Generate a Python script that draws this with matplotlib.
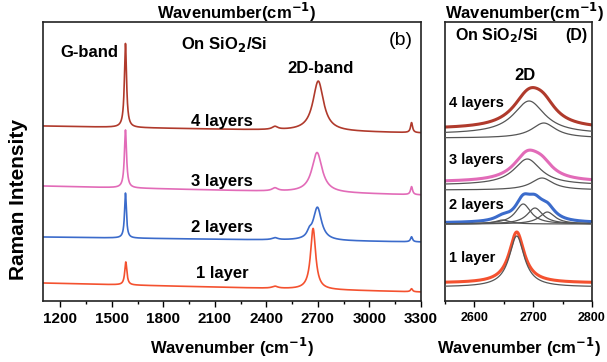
import numpy as np
import matplotlib
matplotlib.use('Agg')
import matplotlib.pyplot as plt
from matplotlib.ticker import MultipleLocator

plt.rcParams['font.family'] = ['Liberation Sans', 'DejaVu Sans']
plt.rcParams['font.weight'] = 'bold'
plt.rcParams['mathtext.default'] = 'bf'

# ---------------- data (arbitrary intensity units) ----
layer_labels = ['1 layer', '2 layers', '3 layers', '4 layers']
layer_colors = ['#f4512f', '#3b6bcb', '#e26bb8', '#b03a2c']

# left panel: full spectra on SiO2/Si
base_at_1100 = [18, 64, 115, 175]
base_at_3300 = [9, 59, 106, 168]
G_pos = [1582, 1580, 1580, 1580]
G_fwhm = [15, 13, 15, 15]
G_height = [23, 45, 58, 84]
D2_pos = [2672, 2697, 2695, 2702]
D2_fwhm = [36, 58, 72, 75]
D2_height = [61, 33, 40, 50]
shoulder_pos = [2650, 2650, 2650, 2650]
shoulder_height = [0, 5, 0, 0]
band2450_height = [2, 2, 3, 3]
band3245_height = [3, 5, 8, 10]

# right panel: 2D band with fitted components
rp_data_base = [18, 78, 119, 172]
comp_center = {'1 layer': [2672], '2 layers': [2648, 2683, 2703, 2724],
               '3 layers': [2690, 2715], '4 layers': [2693, 2718]}
comp_fwhm = {'1 layer': [31], '2 layers': [30, 32, 32, 32],
             '3 layers': [56, 45], '4 layers': [65, 50]}
comp_height = {'1 layer': [51], '2 layers': [4, 20, 16, 12],
               '3 layers': [26, 12], '4 layers': [33, 15]}
comp_base = {'1 layer': [14], '2 layers': [77, 77, 77, 77],
             '3 layers': [116, 111], '4 layers': [167, 163]}


def lorentz(x, c, w, h):
    return h / (1.0 + ((x - c) / (w / 2.0)) ** 2)


fig = plt.figure(figsize=(6.07, 3.62), dpi=100)
axL = fig.add_axes([43 / 607, 1 - 301 / 362, 378 / 607, 279 / 362])
axR = fig.add_axes([445 / 607, 1 - 301 / 362, 147 / 607, 279 / 362])

# ---------------- left panel ----------------
x = np.linspace(1100, 3300, 6000)
for i, lab in enumerate(layer_labels):
    base = np.interp(x, [1100, 3300], [base_at_1100[i], base_at_3300[i]])
    y = (base + lorentz(x, G_pos[i], G_fwhm[i], G_height[i])
         + lorentz(x, D2_pos[i], D2_fwhm[i], D2_height[i])
         + lorentz(x, shoulder_pos[i], 30, shoulder_height[i])
         + lorentz(x, 2450, 40, band2450_height[i])
         + lorentz(x, 3245, 14, band3245_height[i]))
    axL.plot(x, y, color=layer_colors[i], lw=1.2)

axL.set_xlim(1100, 3300)
axL.set_ylim(0, 279)
axL.set_yticks([])
axL.xaxis.set_major_locator(MultipleLocator(300))
axL.xaxis.set_minor_locator(MultipleLocator(150))

tf = axL.transAxes
axL.text(0.122, 0.892, 'G-band', transform=tf, ha='center', va='center', fontsize=12)
axL.text(0.479, 0.921, 'On SiO$_2$/Si', transform=tf, ha='center', va='center', fontsize=12)
axL.text(0.947, 0.935, '(b)', transform=tf, ha='center', va='center', fontsize=14,
         fontweight='normal')
axL.text(0.733, 0.835, '2D-band', transform=tf, ha='center', va='center', fontsize=12)
for lab, fy in zip(layer_labels, [0.097, 0.262, 0.430, 0.642]):
    axL.text(0.474, fy, lab, transform=tf, ha='center', va='center', fontsize=12)

# ---------------- right panel ----------------
xr = np.linspace(2550, 2800, 1500)
for i, lab in enumerate(layer_labels):
    total = np.zeros_like(xr)
    comps = []
    for c, w, h, b in zip(comp_center[lab], comp_fwhm[lab], comp_height[lab], comp_base[lab]):
        comp = lorentz(xr, c, w, h)
        total += comp
        comps.append(b + comp)
    axR.plot(xr, rp_data_base[i] + total, color=layer_colors[i], lw=2.2, zorder=2)
    for cy in comps:
        axR.plot(xr, cy, color='#555555', lw=0.9, zorder=3)

axR.set_xlim(2550, 2800)
axR.set_ylim(0, 279)
axR.set_yticks([])
axR.xaxis.set_major_locator(MultipleLocator(100))
axR.xaxis.set_minor_locator(MultipleLocator(50))

tr = axR.transAxes
axR.text(0.354, 0.950, 'On SiO$_2$/Si', transform=tr, ha='center', va='center', fontsize=11.5)
axR.text(0.891, 0.950, '(D)', transform=tr, ha='center', va='center', fontsize=11.5)
axR.text(0.544, 0.810, '2D', transform=tr, ha='center', va='center', fontsize=12)
for lab, fy in zip(layer_labels, [0.154, 0.344, 0.505, 0.710]):
    axR.text(0.03, fy, lab, transform=tr, ha='left', va='center', fontsize=10.5)

for ax, ls in ((axL, 11), (axR, 9)):
    for sp in ax.spines.values():
        sp.set_linewidth(1.2)
        sp.set_color('#222222')
    ax.tick_params(axis='x', which='major', direction='out', length=4, width=1,
                   labelsize=ls, pad=4)
    ax.tick_params(axis='x', which='minor', direction='out', length=2.5, width=1)
    for t in ax.get_xticklabels():
        t.set_fontweight('bold')

# axis titles
fig.text(232 / 607, 1 - 347 / 362, 'Wavenumber (cm$^{-1}$)', ha='center', va='center', fontsize=12)
fig.text(519 / 607, 1 - 347 / 362, 'Wavenumber (cm$^{-1}$)', ha='center', va='center', fontsize=12)
fig.text(237 / 607, 1 - 12 / 362, 'Wavenumber(cm$^{-1}$)', ha='center', va='center', fontsize=12)
fig.text(525 / 607, 1 - 12 / 362, 'Wavenumber(cm$^{-1}$)', ha='center', va='center', fontsize=12)
fig.text(19 / 607, 1 - 200 / 362, 'Raman Intensity', ha='center', va='center', fontsize=15,
         rotation=90)

fig.savefig('out.png', dpi=100)
